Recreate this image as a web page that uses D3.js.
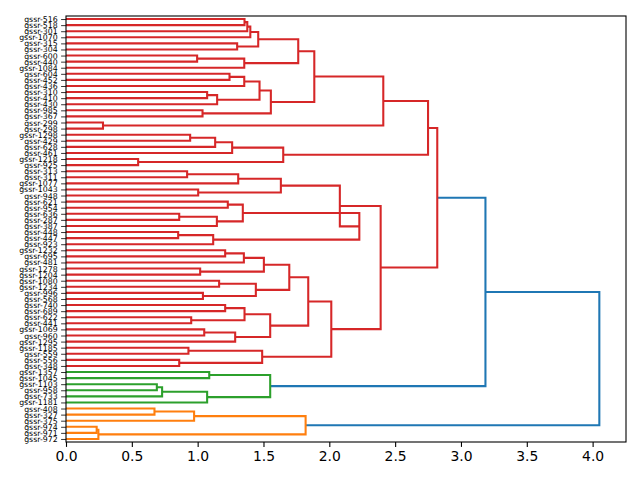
<!DOCTYPE html>
<html>
<head>
<meta charset="utf-8">
<script src="https://cdn.jsdelivr.net/npm/d3@7"></script>
<style>
  body { margin: 0; background: #fff; }
  text { font-family: "DejaVu Sans", sans-serif; }
</style>
</head>
<body>
<div id="chart"></div>
<script>
// leaf labels, top to bottom
var labels = ["gssr-516","gssr-518","gssr-301","gssr-1070","gssr-315","gssr-304","gssr-600","gssr-440","gssr-1084","gssr-604",
  "gssr-452","gssr-436","gssr-310","gssr-410","gssr-430","gssr-985","gssr-367","gssr-299","gssr-298","gssr-1298",
  "gssr-429","gssr-628","gssr-461","gssr-1218","gssr-925","gssr-313","gssr-311","gssr-1077","gssr-1043","gssr-948",
  "gssr-621","gssr-954","gssr-636","gssr-287","gssr-387","gssr-448","gssr-447","gssr-923","gssr-1232","gssr-695",
  "gssr-481","gssr-1278","gssr-1204","gssr-1080","gssr-1234","gssr-996","gssr-568","gssr-740","gssr-689","gssr-622",
  "gssr-441","gssr-1069","gssr-960","gssr-1295","gssr-1185","gssr-559","gssr-556","gssr-348","gssr-1357","gssr-1045",
  "gssr-1103","gssr-958","gssr-733","gssr-1181","gssr-408","gssr-327","gssr-375","gssr-974","gssr-971","gssr-972"]

// linkage rows: ids < 70 are leaves, id 70+k is the cluster made by row k
var mergeA = [0,70,71,4,72,6,75,74,9,78, 12,80,79,15,82,77,17,85,19,88, 89,23,90,87,25,94,28,95,30,32,
  99,98,35,102,101,97,38,106,41,107, 43,45,110,109,47,49,114,51,117,116, 113,54,56,121,120,105,93,58,60,128,
  129,127,126,64,133,67,135,134,132]
var mergeB = [1,2,3,5,73,7,8,76,10,11, 13,14,81,16,83,84,18,86,20,21, 22,24,91,92,26,27,29,96,31,33,
  34,100,36,37,103,104,39,40,42,108, 44,46,111,112,48,50,115,52,53,118, 119,55,57,122,123,124,125,59,61,62,
  63,130,131,65,66,68,69,136,137]
var mergeH = [1.356,1.377,1.40,1.30,1.46,0.996,1.354,1.764,1.242,1.354, 1.072,1.148,1.47,1.037,1.556,1.886,0.281,2.41,0.943,1.133,
  1.262,0.548,1.65,2.75,0.92,1.308,1.004,1.632,1.229,0.86, 1.146,1.343,0.852,1.118,2.228,2.08,1.209,1.351,1.019,1.503,
  1.163,1.04,1.442,1.696,1.209,0.951,1.356,1.05,1.285,1.551, 1.84,0.93,0.86,1.49,2.015,2.39,2.82,1.088,0.69,0.73,
  1.072,1.551,3.186,0.672,0.973,0.233,0.246,1.82,4.051]

var xTicks = [0, 0.5, 1, 1.5, 2, 2.5, 3, 3.5, 4]
// cluster colours from bottom to top, then the colour above the threshold
var clusterColors = ["#ff7f0e", "#2ca02c", "#d62728"]
var aboveColor = "#1f77b4"

var W = 640, H = 480
var margin = { top: 16, right: 14, bottom: 38, left: 66 }

var svg = d3.select("#chart").append("svg").attr("width", W).attr("height", H)

// build nested nodes from the linkage
var n = labels.length
var nodes = labels.map(function (l, i) { return { name: l, h: 0 } })
mergeA.forEach(function (a, k) {
  nodes.push({ h: mergeH[k], children: [nodes[a], nodes[mergeB[k]]] })
})
var root = d3.hierarchy(nodes[nodes.length - 1])

var maxH = d3.max(mergeH)
var threshold = 0.7 * maxH

d3.cluster().size([n * 10, 1]).separation(function () { return 1 })(root)

var x = d3.scaleLinear().domain([0, maxH * 1.05]).range([margin.left, W - margin.right])
var y = d3.scaleLinear().domain([0, n * 10]).range([margin.top, H - margin.bottom])

// colour each cluster below the threshold, bottom cluster first
var ci = 0
root.descendants().filter(function (d) {
  return d.data.h < threshold && d.children && (!d.parent || d.parent.data.h >= threshold)
}).sort(function (a, b) { return b.x - a.x }).forEach(function (d) {
  var c = clusterColors[ci++ % clusterColors.length]
  d.each(function (e) { e.color = c })
})

var links = svg.append("g")
root.descendants().filter(function (d) { return d.children }).forEach(function (d) {
  var c0 = d.children[0], c1 = d.children[1]
  var col = d.data.h >= threshold ? aboveColor : (d.color || aboveColor)
  var p = d3.path()
  p.moveTo(x(c0.data.h), y(c0.x))
  p.lineTo(x(d.data.h), y(c0.x))
  p.lineTo(x(d.data.h), y(c1.x))
  p.lineTo(x(c1.data.h), y(c1.x))
  links.append("path").attr("d", p.toString())
    .attr("fill", "none").attr("stroke", col).attr("stroke-width", 2.08)
})

// axes
var leaves = root.leaves()
var yAxis = d3.axisLeft(d3.scaleLinear().domain(y.domain()).range(y.range()))
  .tickValues(leaves.map(function (d) { return d.x }))
  .tickFormat(function (v, i) { return leaves[i].data.name })
  .tickSize(4.9).tickPadding(3.5)
var gy = svg.append("g").attr("transform", "translate(" + margin.left + ",0)").call(yAxis)
gy.selectAll("text").style("font-size", "7.8px").attr("fill", "#000")
gy.select(".domain").remove()
gy.selectAll("line").attr("stroke", "#000").attr("stroke-width", 0.8)

var xAxis = d3.axisBottom(x).tickValues(xTicks).tickFormat(d3.format(".1f")).tickSize(4.9).tickPadding(4.2)
var gx = svg.append("g").attr("transform", "translate(0," + (H - margin.bottom) + ")").call(xAxis)
gx.selectAll("text").style("font-size", "13.9px").attr("fill", "#000")
gx.select(".domain").remove()
gx.selectAll("line").attr("stroke", "#000").attr("stroke-width", 1.1)

svg.append("rect")
  .attr("x", margin.left).attr("y", margin.top)
  .attr("width", W - margin.left - margin.right).attr("height", H - margin.top - margin.bottom)
  .attr("fill", "none").attr("stroke", "#000").attr("stroke-width", 1.1)
</script>
</body>
</html>
